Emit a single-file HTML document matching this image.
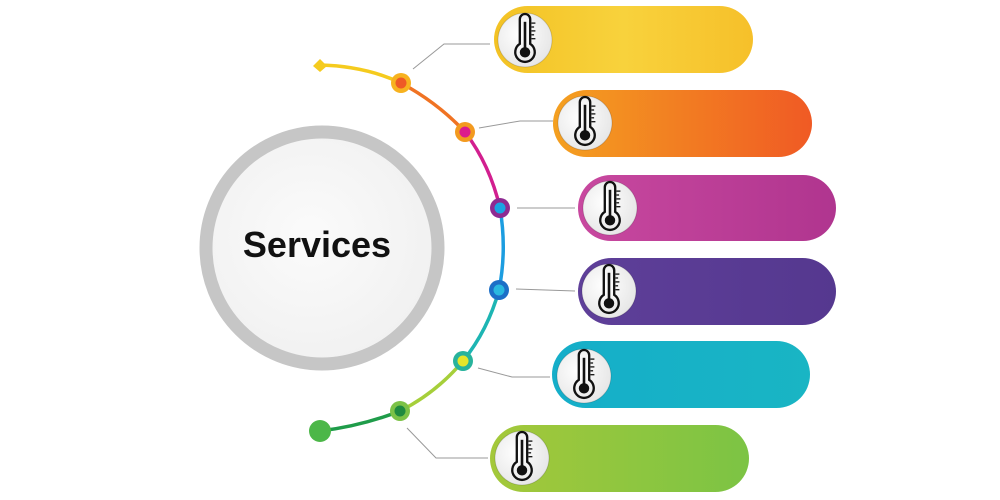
<!DOCTYPE html>
<html><head><meta charset="utf-8"><style>
html,body{margin:0;padding:0;background:#fff;width:1000px;height:500px;overflow:hidden}
</style></head><body>
<svg width="1000" height="500" viewBox="0 0 1000 500" xmlns="http://www.w3.org/2000/svg">
<defs>
<linearGradient id="gy" x1="0" x2="1"><stop offset="0" stop-color="#f3c224"/><stop offset="0.5" stop-color="#f8d23c"/><stop offset="1" stop-color="#f6c02a"/></linearGradient>
<linearGradient id="go" x1="0" x2="1"><stop offset="0" stop-color="#f4a020"/><stop offset="1" stop-color="#f05a24"/></linearGradient>
<linearGradient id="gm" x1="0" x2="1"><stop offset="0" stop-color="#c8489f"/><stop offset="1" stop-color="#b0358f"/></linearGradient>
<linearGradient id="gv" x1="0" x2="1"><stop offset="0" stop-color="#5e3f99"/><stop offset="1" stop-color="#55388f"/></linearGradient>
<linearGradient id="gt" x1="0" x2="1"><stop offset="0" stop-color="#15aec9"/><stop offset="1" stop-color="#19b5c4"/></linearGradient>
<linearGradient id="gg" x1="0" x2="1"><stop offset="0" stop-color="#a4c83a"/><stop offset="1" stop-color="#7cc444"/></linearGradient>
<radialGradient id="ic" cx="0.4" cy="0.4" r="0.7"><stop offset="0" stop-color="#ffffff"/><stop offset="1" stop-color="#e4e4e4"/></radialGradient>
<radialGradient id="bc" cx="0.45" cy="0.45" r="0.6"><stop offset="0" stop-color="#fbfbfb"/><stop offset="1" stop-color="#f0f0f0"/></radialGradient>
<g id="th">
<circle r="27" fill="url(#ic)" stroke="rgba(0,0,0,0.15)" stroke-width="1"/>
<g transform="scale(1.3)">
<path d="M-4,-16 a4,4 0 0 1 8,0 v19 a7.5,7.5 0 1 1 -8,0 z" fill="none" stroke="#111" stroke-width="1.8"/>
<line x1="0" y1="-14" x2="0" y2="6" stroke="#111" stroke-width="2"/>
<circle cx="0" cy="9.5" r="4" fill="#111"/>
<g stroke="#111" stroke-width="1"><line x1="5" y1="-13" x2="8" y2="-13"/><line x1="5" y1="-10" x2="7" y2="-10"/><line x1="5" y1="-7" x2="8" y2="-7"/><line x1="5" y1="-4" x2="7" y2="-4"/><line x1="5" y1="-1" x2="8" y2="-1"/></g>
</g>
</g>
</defs>

<circle cx="322" cy="248" r="116" fill="url(#bc)" stroke="#c6c6c6" stroke-width="13"/>
<text x="317" y="257" text-anchor="middle" font-family="Liberation Sans, sans-serif" font-weight="bold" font-size="36" fill="#111">Services</text>

<g stroke="#999" stroke-width="1" fill="none">
<polyline points="413,69 444,44 490,44"/>
<polyline points="479,128 520,121 553,121"/>
<polyline points="517,208 575,208"/>
<polyline points="516,289 575,291"/>
<polyline points="478,368 512,377 550,377"/>
<polyline points="407,428 436,458 488,458"/>
</g>

<g fill="none" stroke-width="3.5" stroke-linecap="round">
<path d="M320,65 Q365,66 401,83" stroke="#f5cb1e"/>
<path d="M401,83 Q438,103 465,132" stroke="#f07323"/>
<path d="M465,132 Q490,165 500,208" stroke="#d21f8f"/>
<path d="M500,208 Q507,250 499,290" stroke="#1c9de0"/>
<path d="M499,290 Q488,330 463,361" stroke="#1db5b3"/>
<path d="M463,361 Q436,393 400,411" stroke="#a6cf3a"/>
<path d="M400,411 Q362,426 320,431" stroke="#1f9c4a"/>
</g>
<polygon points="313,66 320,59 327,66 320,72" fill="#f5cb1e"/>
<circle cx="320" cy="431" r="11" fill="#4cb748"/>
<g>
<circle cx="401" cy="83" r="10" fill="#f7b21f"/><circle cx="401" cy="83" r="5.5" fill="#ee5a26"/>
<circle cx="465" cy="132" r="10" fill="#f39a1f"/><circle cx="465" cy="132" r="5.5" fill="#dc1b8c"/>
<circle cx="500" cy="208" r="10" fill="#8e2a92"/><circle cx="500" cy="208" r="5.5" fill="#1ba3e3"/>
<circle cx="499" cy="290" r="10" fill="#1c6fc7"/><circle cx="499" cy="290" r="5.5" fill="#29b8e0"/>
<circle cx="463" cy="361" r="10" fill="#28b39c"/><circle cx="463" cy="361" r="5.5" fill="#e6e52a"/>
<circle cx="400" cy="411" r="10" fill="#7cc247"/><circle cx="400" cy="411" r="5.5" fill="#1f8a3f"/>
</g>

<rect x="494" y="6" width="259" height="67" rx="33.5" fill="url(#gy)"/>
<rect x="553" y="90" width="259" height="67" rx="33.5" fill="url(#go)"/>
<rect x="578" y="175" width="258" height="66" rx="33" fill="url(#gm)"/>
<rect x="578" y="258" width="258" height="67" rx="33.5" fill="url(#gv)"/>
<rect x="552" y="341" width="258" height="67" rx="33.5" fill="url(#gt)"/>
<rect x="490" y="425" width="259" height="67" rx="33.5" fill="url(#gg)"/>

<use href="#th" x="525" y="40"/>
<use href="#th" x="585" y="123"/>
<use href="#th" x="610" y="208"/>
<use href="#th" x="609" y="291"/>
<use href="#th" x="584" y="376"/>
<use href="#th" x="522" y="458"/>
</svg>
</body></html>
